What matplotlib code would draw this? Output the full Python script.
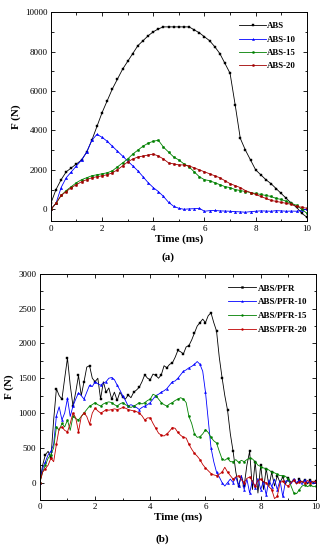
import numpy as np
import matplotlib
matplotlib.use("Agg")
from matplotlib import pyplot as plt
from matplotlib.ticker import MultipleLocator

plt.rcParams['font.family'] = ['Liberation Serif', 'DejaVu Serif']

### data, panel (a): sampled every 0.2 ms
t_a = np.arange(51) * 0.2
abs_0 = [300, 1000, 1500, 1900, 2100, 2300, 2500, 2900, 3500, 4200,
         4900, 5500, 6100, 6600, 7100, 7500, 7900, 8300, 8550, 8800,
         9000, 9150, 9250, 9250, 9250, 9250, 9250, 9250, 9100, 8950,
         8750, 8550, 8250, 7900, 7400, 6900, 5300, 3600, 3000, 2500,
         2000, 1750, 1500, 1300, 1050, 800, 550, 300, 100, -200, -400]
abs_10 = [0, 300, 1100, 1600, 1900, 2200, 2500, 2900, 3500, 3800,
          3650, 3450, 3200, 2950, 2700, 2450, 2200, 1950, 1650, 1350,
          1100, 900, 650, 350, 150, 50, 0, 20, 30, 50,
          -100, -70, -60, -80, -90, -100, -120, -130, -150, -120,
          -100, -80, -90, -100, -70, -80, -100, -90, -100, -50, 0]
abs_15 = [0, 300, 700, 950, 1150, 1350, 1500, 1600, 1700, 1750,
          1800, 1850, 1950, 2150, 2350, 2550, 2800, 3000, 3200, 3350,
          3450, 3500, 3150, 2900, 2650, 2500, 2300, 2150, 1900, 1650,
          1500, 1450, 1350, 1250, 1150, 1100, 1000, 950, 900, 850,
          800, 750, 700, 650, 550, 500, 400, 300, 200, 0, -200]
abs_20 = [0, 300, 700, 900, 1100, 1250, 1400, 1500, 1600, 1650,
          1700, 1750, 1850, 2000, 2200, 2400, 2550, 2650, 2700, 2750,
          2800, 2700, 2550, 2350, 2300, 2250, 2250, 2200, 2100, 2000,
          1900, 1800, 1700, 1600, 1450, 1300, 1200, 1100, 950, 850,
          750, 650, 550, 450, 400, 350, 300, 250, 150, 100, 50]

### data, panel (b): sampled every 0.1 ms
t_b = np.arange(101) * 0.1
pfr_0 = [0, 250, 400, 450, 350, 900, 1350, 1250, 1200, 1500,
         1790, 1400, 1100, 1300, 1540, 1250, 1450, 1660, 1680, 1500,
         1450, 1500, 1200, 1450, 1300, 1360, 1200, 1300, 1180, 1300,
         1230, 1200, 1260, 1220, 1300, 1330, 1370, 1450, 1550, 1500,
         1480, 1560, 1540, 1500, 1550, 1680, 1650, 1700, 1720, 1800,
         1900, 1880, 1850, 1950, 1970, 2050, 2150, 2250, 2300, 2350,
         2300, 2400, 2440, 2300, 2180, 1800, 1510, 1250, 1040, 700,
         450, 150, -50, 100, -50, 250, 450, -100, 300, -150,
         250, -100, 200, -50, 150, -50, 100, 0, 80, -20,
         60, 0, 40, -20, 50, 0, 40, -20, 30, 0, 20]
pfr_10 = [0, 200, 300, 400, 450, 550, 960, 1090, 900, 1000,
          1210, 950, 1100, 1200, 1290, 1250, 1200, 1300, 1400, 1380,
          1450, 1420, 1400, 1430, 1450, 1500, 1510, 1480, 1400, 1330,
          1250, 1180, 1100, 1120, 1100, 1080, 1050, 1080, 1100, 1120,
          1150, 1200, 1250, 1270, 1300, 1320, 1350, 1400, 1450, 1460,
          1500, 1550, 1600, 1620, 1650, 1670, 1700, 1740, 1700, 1600,
          1300, 900, 500, 300, 150, 80, 0, -50, 0, 50,
          0, 80, -50, 100, -100, 50, -150, 30, -80, 60,
          -100, 20, -180, 40, -60, 50, -100, 30, -200, 20,
          40, -20, 50, 0, 30, -30, 40, 0, 20, -20, 10]
pfr_15 = [0, 150, 250, 350, 400, 500, 800, 750, 850, 800,
          900, 750, 950, 920, 900, 950, 1000, 1050, 1100, 1120,
          1150, 1120, 1100, 1130, 1150, 1160, 1150, 1120, 1100, 1130,
          1150, 1120, 1100, 1080, 1100, 1120, 1150, 1130, 1150, 1180,
          1200, 1270, 1250, 1200, 1150, 1120, 1100, 1130, 1150, 1180,
          1200, 1220, 1200, 1150, 950, 850, 700, 650, 660, 700,
          760, 720, 650, 600, 570, 450, 340, 320, 350, 300,
          300, 330, 290, 320, 300, 330, 350, 340, 300, 250,
          230, 210, 200, 180, 150, 140, 120, 100, 100, 90,
          50, -50, -150, -160, -100, -50, -30, -60, -30, -60, -50]
pfr_20 = [0, 150, 200, 250, 350, 300, 550, 780, 800, 750,
          730, 850, 1000, 930, 730, 950, 1000, 950, 840, 1000,
          1070, 1030, 1000, 1020, 1050, 1040, 1050, 1060, 1050, 1060,
          1080, 1070, 1050, 1040, 1030, 1020, 1000, 960, 900, 930,
          930, 850, 780, 710, 680, 670, 700, 740, 790, 780,
          720, 680, 650, 640, 550, 480, 420, 380, 330, 260,
          210, 170, 130, 110, 100, 120, 150, 220, 150, 100,
          50, 80, 100, 40, 0, 60, 80, 20, -50, 30,
          50, 10, 0, -60, -100, -230, -200, 0, 20, -30,
          -50, 0, 30, -20, 10, 20, -10, 30, 0, 20, 10]

series_a = [('ABS', abs_0, 'black', 's'), ('ABS-10', abs_10, 'blue', '^'),
            ('ABS-15', abs_15, 'green', 'o'), ('ABS-20', abs_20, '#a00000', 'o')]
series_b = [('ABS/PFR', pfr_0, 'black', 's'), ('ABS/PFR-10', pfr_10, 'blue', '^'),
            ('ABS/PFR-15', pfr_15, 'green', 'o'), ('ABS/PFR-20', pfr_20, '#c00000', 'o')]

fig = plt.figure(figsize=(3.24, 5.5), dpi=100)
ax1 = fig.add_axes([0.157, 0.598, 0.790, 0.380])
ax2 = fig.add_axes([0.123, 0.091, 0.852, 0.411])


def style(ax, ymaj, ymin):
    ax.set_xlim(0, 10)
    ax.xaxis.set_major_locator(MultipleLocator(2))
    ax.xaxis.set_minor_locator(MultipleLocator(1))
    ax.yaxis.set_major_locator(MultipleLocator(ymaj))
    ax.yaxis.set_minor_locator(MultipleLocator(ymin))
    ax.tick_params(which='both', direction='in', top=True, right=True,
                   labelsize=6.5, width=0.6, pad=2.5)
    ax.tick_params(which='major', length=3)
    ax.tick_params(which='minor', length=1.8)
    for s in ax.spines.values():
        s.set_linewidth(0.7)
    ax.set_xlabel('Time (ms)', fontsize=8, fontweight='bold', labelpad=1)
    ax.set_ylabel('F (N)', fontsize=8, fontweight='bold', labelpad=3)


for name, vals, col, mk in series_a:
    ax1.plot(t_a, vals, color=col, marker=mk, markersize=1.7, mew=0.3,
             lw=0.6, label=name)
ax1.set_ylim(-600, 10000)
style(ax1, 2000, 1000)
ax1.legend(loc='upper right', bbox_to_anchor=(0.99, 0.99), frameon=False,
           prop={'size': 6.3, 'weight': 'bold'}, handlelength=3.0,
           handletextpad=0.2, labelspacing=0.6, markerscale=0.9)

for name, vals, col, mk in series_b:
    ax2.plot(t_b, vals, color=col, marker=mk, markersize=1.5, mew=0.3,
             markevery=2, lw=0.6, label=name)
ax2.set_ylim(-250, 3000)
style(ax2, 500, 250)
ax2.legend(loc='upper right', bbox_to_anchor=(1.0, 0.99), frameon=False,
           prop={'size': 6.5, 'weight': 'bold'}, handlelength=3.2,
           handletextpad=0.2, labelspacing=0.6, markerscale=0.9)

fig.text(0.52, 0.533, '(a)', fontsize=8, fontweight='bold', ha='center', va='center')
fig.text(0.50, 0.020, '(b)', fontsize=8, fontweight='bold', ha='center', va='center')

fig.savefig('out.png', dpi=100)
